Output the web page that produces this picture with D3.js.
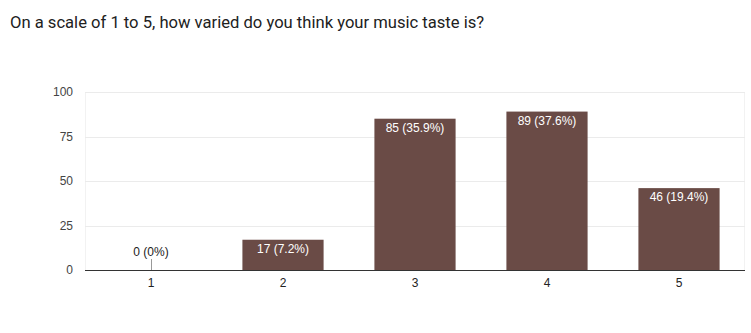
<!DOCTYPE html>
<html><head><meta charset="utf-8">
<script src="https://cdn.jsdelivr.net/npm/d3@7"></script>
<style>
body{margin:0;background:#fff;}
svg{display:block;}
</style></head>
<body>
<svg id="c" width="751" height="333"></svg>
<script>
const title = "On a scale of 1 to 5, how varied do you think your music taste is?";
const categories = ["1","2","3","4","5"];
const counts = [0,17,85,89,46];
const labels = ["0 (0%)","17 (7.2%)","85 (35.9%)","89 (37.6%)","46 (19.4%)"];
const yTicks = [0,25,50,75,100];

const svg = d3.select("#c");
const m = {left:85, right:745, top:92, bottom:270};
const x = d3.scaleBand().domain(categories).range([m.left,m.right]).paddingInner(0.385).paddingOuter(0.1925);
const y = d3.scaleLinear().domain([0,100]).range([m.bottom,m.top]);

svg.append("text").attr("x",10).attr("y",28).attr("font-family","Roboto, sans-serif")
  .attr("font-size",16.6).attr("fill","#212121").text(title);

// frame
svg.append("rect").attr("x",m.left+0.5).attr("y",m.top+0.5).attr("width",m.right-m.left-1).attr("height",m.bottom-m.top)
  .attr("fill","none").attr("stroke","#f2f2f2");

// grid
svg.append("g").selectAll("line").data(yTicks.filter(d=>d>0)).join("line")
  .attr("x1",m.left).attr("x2",m.right).attr("y1",d=>Math.round(y(d))+0.5).attr("y2",d=>Math.round(y(d))+0.5)
  .attr("stroke","#ebebeb");

// y axis labels
const ya = svg.append("g").attr("transform",`translate(${m.left-12},0)`)
  .call(d3.axisLeft(y).tickValues(yTicks).tickSize(0).tickPadding(0));
ya.select(".domain").remove();
ya.selectAll("text").attr("font-family","Liberation Sans, Arial, sans-serif").attr("font-size",12).attr("fill","#444");

// bars
svg.append("g").selectAll("rect").data(counts).join("rect")
  .attr("x",(d,i)=>x(categories[i])).attr("width",x.bandwidth())
  .attr("y",d=>y(d)).attr("height",d=>y(0)-y(d)).attr("fill","#6a4b46");

// labels
svg.append("g").selectAll("text").data(counts).join("text")
  .attr("x",(d,i)=>x(categories[i])+x.bandwidth()/2)
  .attr("y",d=> d>10 ? y(d)+13 : y(d)-14)
  .attr("text-anchor","middle").attr("font-family","Liberation Sans, Arial, sans-serif").attr("font-size",12)
  .attr("fill",d=> d>10 ? "#fff" : "#222").text((d,i)=>labels[i]);

// leader line for zero bar
svg.append("g").selectAll("line").data(counts.map((d,i)=>[d,i]).filter(p=>p[0]<=10)).join("line")
  .attr("x1",p=>Math.round(x(categories[p[1]])+x.bandwidth()/2)+0.5).attr("x2",p=>Math.round(x(categories[p[1]])+x.bandwidth()/2)+0.5)
  .attr("y1",p=>y(p[0])-11).attr("y2",p=>y(p[0])).attr("stroke","#999");

// baseline
svg.append("line").attr("x1",m.left).attr("x2",m.right).attr("y1",m.bottom+0.5).attr("y2",m.bottom+0.5).attr("stroke","#333");

// x axis labels
const xa = svg.append("g").attr("transform",`translate(0,${m.bottom+8})`)
  .call(d3.axisBottom(x).tickSize(0).tickPadding(0));
xa.select(".domain").remove();
xa.selectAll("text").attr("font-family","Liberation Sans, Arial, sans-serif").attr("font-size",12).attr("fill","#222").attr("dy","0.71em");
</script>
</body></html>
